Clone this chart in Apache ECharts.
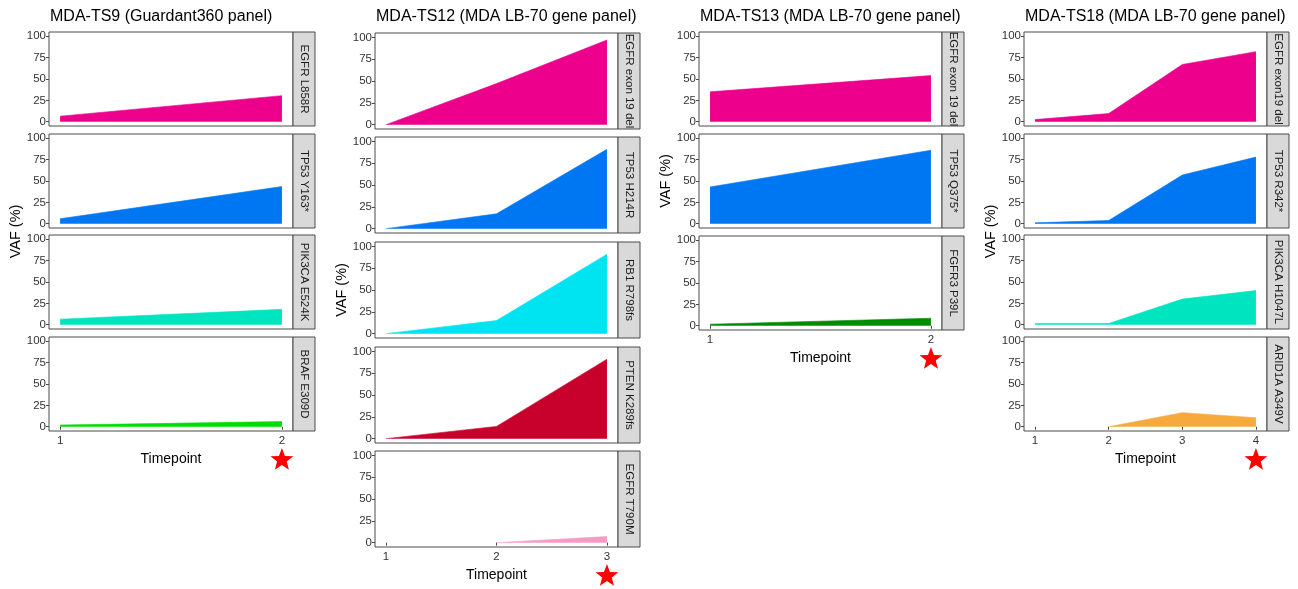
<!DOCTYPE html>
<html><head><meta charset="utf-8">
<script src="https://cdn.jsdelivr.net/npm/echarts@6/dist/echarts.min.js"></script>
<style>html,body{margin:0;padding:0;background:#fff}#c{width:1298px;height:589px}</style>
</head><body><div id="c"></div>
<script>
// ================= DATA =================
const yTickValues = [0, 25, 50, 75, 100];

// MDA-TS9 (Guardant360 panel)
const ts9Title = 'MDA-TS9 (Guardant360 panel)';
const ts9Timepoints = [1, 2];
const ts9Mutations = ['EGFR L858R', 'TP53 Y163*', 'PIK3CA E524K', 'BRAF E309D'];
const ts9_EGFR_L858R = [6.5, 30.5];
const ts9_TP53_Y163 = [5.8, 43.5];
const ts9_PIK3CA_E524K = [6.5, 18];
const ts9_BRAF_E309D = [2, 6];

// MDA-TS12 (MDA LB-70 gene panel)
const ts12Title = 'MDA-TS12 (MDA LB-70 gene panel)';
const ts12Timepoints = [1, 2, 3];
const ts12Mutations = ['EGFR exon 19 del', 'TP53 H214R', 'RB1 R798fs', 'PTEN K289fs', 'EGFR T790M'];
const ts12_EGFR_ex19del = [0, 47, 97];
const ts12_TP53_H214R = [0, 17, 91];
const ts12_RB1_R798fs = [0, 15, 91];
const ts12_PTEN_K289fs = [0, 14, 91];
const ts12_EGFR_T790M = [null, 0, 7];

// MDA-TS13 (MDA LB-70 gene panel)
const ts13Title = 'MDA-TS13 (MDA LB-70 gene panel)';
const ts13Timepoints = [1, 2];
const ts13Mutations = ['EGFR exon 19 del', 'TP53 Q375*', 'FGFR3 P39L'];
const ts13_EGFR_ex19del = [35, 54];
const ts13_TP53_Q375 = [43, 86];
const ts13_FGFR3_P39L = [1.8, 8.8];

// MDA-TS18 (MDA LB-70 gene panel)
const ts18Title = 'MDA-TS18 (MDA LB-70 gene panel)';
const ts18Timepoints = [1, 2, 3, 4];
const ts18Mutations = ['EGFR exon19 del', 'TP53 R342*', 'PIK3CA H1047L', 'ARID1A A349V'];
const ts18_EGFR_ex19del = [2.5, 9.5, 67, 82];
const ts18_TP53_R342 = [1, 3.8, 57, 78];
const ts18_PIK3CA_H1047L = [1.5, 1.5, 30, 40];
const ts18_ARID1A_A349V = [null, 0, 16.5, 10.5];

// ================= STYLE / LAYOUT =================
const C = {
  pink: '#EC008C', blue: '#0077F2', teal: '#00E5BF', green: '#00DE00',
  dgreen: '#008C00', cyan: '#00E4F2', crimson: '#C8002C', lpink: '#F59AC3', orange: '#F7A93D'
};
const FONT = '"Liberation Sans", Arial, Helvetica, sans-serif';
const BORDER = '#4a4a4a';
const TICKTXT = '#333333';
const STRIP_W = 22;

const groups = [
  { title: ts9Title, tps: ts9Timepoints, muts: ts9Mutations,
    vals: [ts9_EGFR_L858R, ts9_TP53_Y163, ts9_PIK3CA_E524K, ts9_BRAF_E309D],
    colors: [C.pink, C.blue, C.teal, C.green],
    left: 49, width: 244, tops: [32, 134, 235, 337], height: 94 },
  { title: ts12Title, tps: ts12Timepoints, muts: ts12Mutations,
    vals: [ts12_EGFR_ex19del, ts12_TP53_H214R, ts12_RB1_R798fs, ts12_PTEN_K289fs, ts12_EGFR_T790M],
    colors: [C.pink, C.blue, C.cyan, C.crimson, C.lpink],
    left: 375, width: 243, tops: [33, 137, 242, 347, 451], height: 96 },
  { title: ts13Title, tps: ts13Timepoints, muts: ts13Mutations,
    vals: [ts13_EGFR_ex19del, ts13_TP53_Q375, ts13_FGFR3_P39L],
    colors: [C.pink, C.blue, C.dgreen],
    left: 699, width: 243, tops: [32, 134, 236], height: 94 },
  { title: ts18Title, tps: ts18Timepoints, muts: ts18Mutations,
    vals: [ts18_EGFR_ex19del, ts18_TP53_R342, ts18_PIK3CA_H1047L, ts18_ARID1A_A349V],
    colors: [C.pink, C.blue, C.teal, C.orange],
    left: 1024, width: 243, tops: [32, 134, 235, 337], height: 94 }
];

const chart = echarts.init(document.getElementById('c'), null, { renderer: 'canvas' });
const grid = [], xAxis = [], yAxis = [], series = [], graphic = [];
const bottomAxisIdx = [];
let idx = 0;

groups.forEach((g, gi) => {
  const n = g.tps.length;
  const span = g.tps[n - 1] - g.tps[0];
  const xmin = g.tps[0] - 0.05 * span, xmax = g.tps[n - 1] + 0.05 * span;
  g.muts.forEach((m, r) => {
    const top = g.tops[r];
    const isBottom = r === g.muts.length - 1;
    grid.push({ left: g.left, top: top, width: g.width, height: g.height,
      show: true, borderColor: BORDER, borderWidth: 1, backgroundColor: '#fff', containLabel: false });
    xAxis.push({ type: 'value', gridIndex: idx, min: xmin, max: xmax,
      axisLine: { show: false }, splitLine: { show: false },
      axisTick: { show: isBottom, length: 3, lineStyle: { color: BORDER }, customValues: g.tps },
      axisLabel: { show: isBottom, customValues: g.tps, color: TICKTXT, fontSize: 11.5, fontFamily: FONT, margin: 4 } });
    yAxis.push({ type: 'value', gridIndex: idx, min: -5, max: 105,
      axisLine: { show: false }, splitLine: { show: false },
      axisTick: { show: true, length: 3, lineStyle: { color: BORDER }, customValues: yTickValues },
      axisLabel: { show: true, customValues: yTickValues, color: TICKTXT, fontSize: 11.5, fontFamily: FONT, margin: 3 } });
    const data = [];
    g.tps.forEach((t, k) => { if (g.vals[r][k] !== null) data.push([t, g.vals[r][k]]); });
    series.push({ type: 'line', xAxisIndex: idx, yAxisIndex: idx, data: data,
      symbol: 'none', silent: true, animation: false,
      lineStyle: { width: 0.6, color: g.colors[r] },
      areaStyle: { color: g.colors[r], opacity: 1, origin: 'auto' } });
    // strip
    graphic.push({ type: 'rect', shape: { x: g.left + g.width, y: top, width: STRIP_W, height: g.height },
      style: { fill: '#D9D9D9', stroke: BORDER, lineWidth: 1 }, silent: true });
    graphic.push({ type: 'text', x: g.left + g.width + STRIP_W / 2 + 0.5, y: top + g.height / 2,
      rotation: -Math.PI / 2, silent: true,
      style: { text: m, font: '11.5px ' + FONT, fill: '#1a1a1a', textAlign: 'center', textVerticalAlign: 'middle' } });
    if (isBottom) bottomAxisIdx.push(idx);
    idx++;
  });
  const firstTop = g.tops[0];
  const lastBottom = g.tops[g.tops.length - 1] + g.height;
  // title
  graphic.push({ type: 'text', x: g.left + 1, y: 17, silent: true,
    style: { text: g.title, font: '16px ' + FONT, fill: '#000', textAlign: 'left', textVerticalAlign: 'middle' } });
  // y-axis title
  graphic.push({ type: 'text', x: g.left - 33, y: (firstTop + lastBottom) / 2, rotation: Math.PI / 2, silent: true,
    style: { text: 'VAF (%)', font: '14.5px ' + FONT, fill: '#000', textAlign: 'center', textVerticalAlign: 'middle' } });
  // x-axis title
  graphic.push({ type: 'text', x: g.left + g.width / 2, y: lastBottom + 28, silent: true,
    style: { text: 'Timepoint', font: '14px ' + FONT, fill: '#000', textAlign: 'center', textVerticalAlign: 'middle' } });
});

chart.setOption({ animation: false, backgroundColor: '#fff', grid, xAxis, yAxis, series });

// red stars under the last timepoint, positioned through the axis scale
function starPoints(cx, cy, R, ratio) {
  const pts = [];
  for (let i = 0; i < 10; i++) {
    const a = -Math.PI / 2 + i * Math.PI / 5;
    const rr = i % 2 === 0 ? R : R * ratio;
    pts.push([cx + rr * Math.cos(a), cy + rr * Math.sin(a)]);
  }
  return pts;
}
groups.forEach((g, gi) => {
  const ai = bottomAxisIdx[gi];
  const px = chart.convertToPixel({ xAxisIndex: ai }, g.tps[g.tps.length - 1]);
  const lastBottom = g.tops[g.tops.length - 1] + g.height;
  graphic.push({ type: 'polygon', silent: true,
    shape: { points: starPoints(px, lastBottom + 29, 12, 0.42) },
    style: { fill: '#FF0000', stroke: 'none' } });
});
chart.setOption({ graphic: graphic });
</script>
</body></html>
